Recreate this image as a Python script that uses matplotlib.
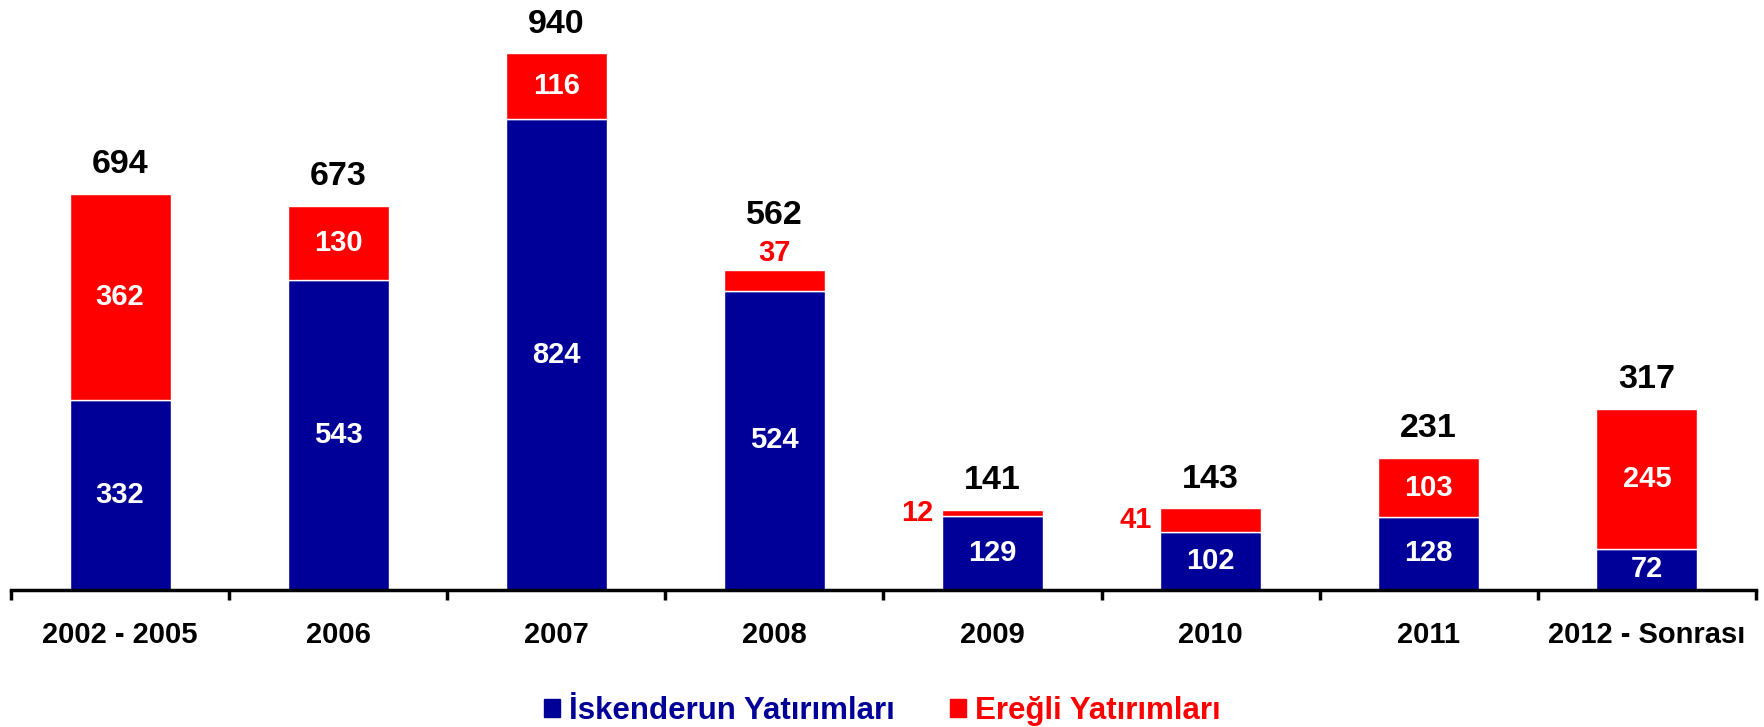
import matplotlib.pyplot as plt
import numpy as np

plt.rcParams['font.family'] = ['Liberation Sans', 'DejaVu Sans']
plt.rcParams['font.weight'] = 'bold'

periods = ['2002 - 2005', '2006', '2007', '2008', '2009', '2010', '2011', '2012 - Sonrası']
iskenderun = [332, 543, 824, 524, 129, 102, 128, 72]
eregli = [362, 130, 116, 37, 12, 41, 103, 245]
totals = [694, 673, 940, 562, 141, 143, 231, 317]

BLUE = '#000099'
RED = '#ff0000'

fig = plt.figure(figsize=(17.65, 7.27), dpi=100)
ax = fig.add_axes([0.00623, 0.1884, 0.98867, 0.7856])

x = np.arange(len(periods))
w = 0.463
ax.bar(x, iskenderun, w, color=BLUE, edgecolor='white', linewidth=1)
ax.bar(x, eregli, w, bottom=iskenderun, color=RED, edgecolor='white', linewidth=1)

# thin red segments get their labels outside the bar
beside = {4, 5}
above = {3}

for i in range(len(periods)):
    ax.text(x[i], iskenderun[i] / 2, str(iskenderun[i]), ha='center', va='center',
            color='white', fontsize=21, fontweight='bold')
    mid = iskenderun[i] + eregli[i] / 2
    top = iskenderun[i] + eregli[i]
    if i in beside:
        ax.annotate(str(eregli[i]), (x[i] - w / 2, mid), xytext=(-6, 0),
                    textcoords='offset points', ha='right', va='center',
                    color=RED, fontsize=21, fontweight='bold')
    elif i in above:
        ax.annotate(str(eregli[i]), (x[i], top), xytext=(0, 12),
                    textcoords='offset points', ha='center', va='center',
                    color=RED, fontsize=21, fontweight='bold')
    else:
        ax.text(x[i], mid, str(eregli[i]), ha='center', va='center',
                color='white', fontsize=21, fontweight='bold')
    off = 39 if i in above else 21
    ax.annotate(str(totals[i]), (x[i], top), xytext=(0, off),
                textcoords='offset points', ha='center', va='center',
                color='black', fontsize=24.5, fontweight='bold')

ax.set_xlim(-0.5, len(periods) - 0.5)
ax.set_ylim(0, 1000)
ax.set_yticks([])
for s in ['top', 'right', 'left']:
    ax.spines[s].set_visible(False)
ax.spines['bottom'].set_linewidth(2.5)

ax.set_xticks(x)
ax.set_xticklabels(periods, fontsize=21, fontweight='bold')
ax.tick_params(axis='x', which='major', length=0, pad=22)
ax.set_xticks(np.arange(len(periods) + 1) - 0.5, minor=True)
ax.tick_params(axis='x', which='minor', length=7, width=2.5, direction='out')

h1 = plt.Rectangle((0, 0), 1, 1, color=BLUE)
h2 = plt.Rectangle((0, 0), 1, 1, color=RED)
leg = fig.legend([h1, h2], ['İskenderun Yatırımları', 'Ereğli Yatırımları'],
                 loc='center', bbox_to_anchor=(0.5, 0.022), ncol=2, frameon=False,
                 prop={'size': 22.5, 'weight': 'bold'}, handlelength=0.5, handleheight=0.5,
                 handletextpad=0.3, columnspacing=1.75)
leg.get_texts()[0].set_color(BLUE)
leg.get_texts()[1].set_color(RED)

fig.savefig('out.png', dpi=100)
